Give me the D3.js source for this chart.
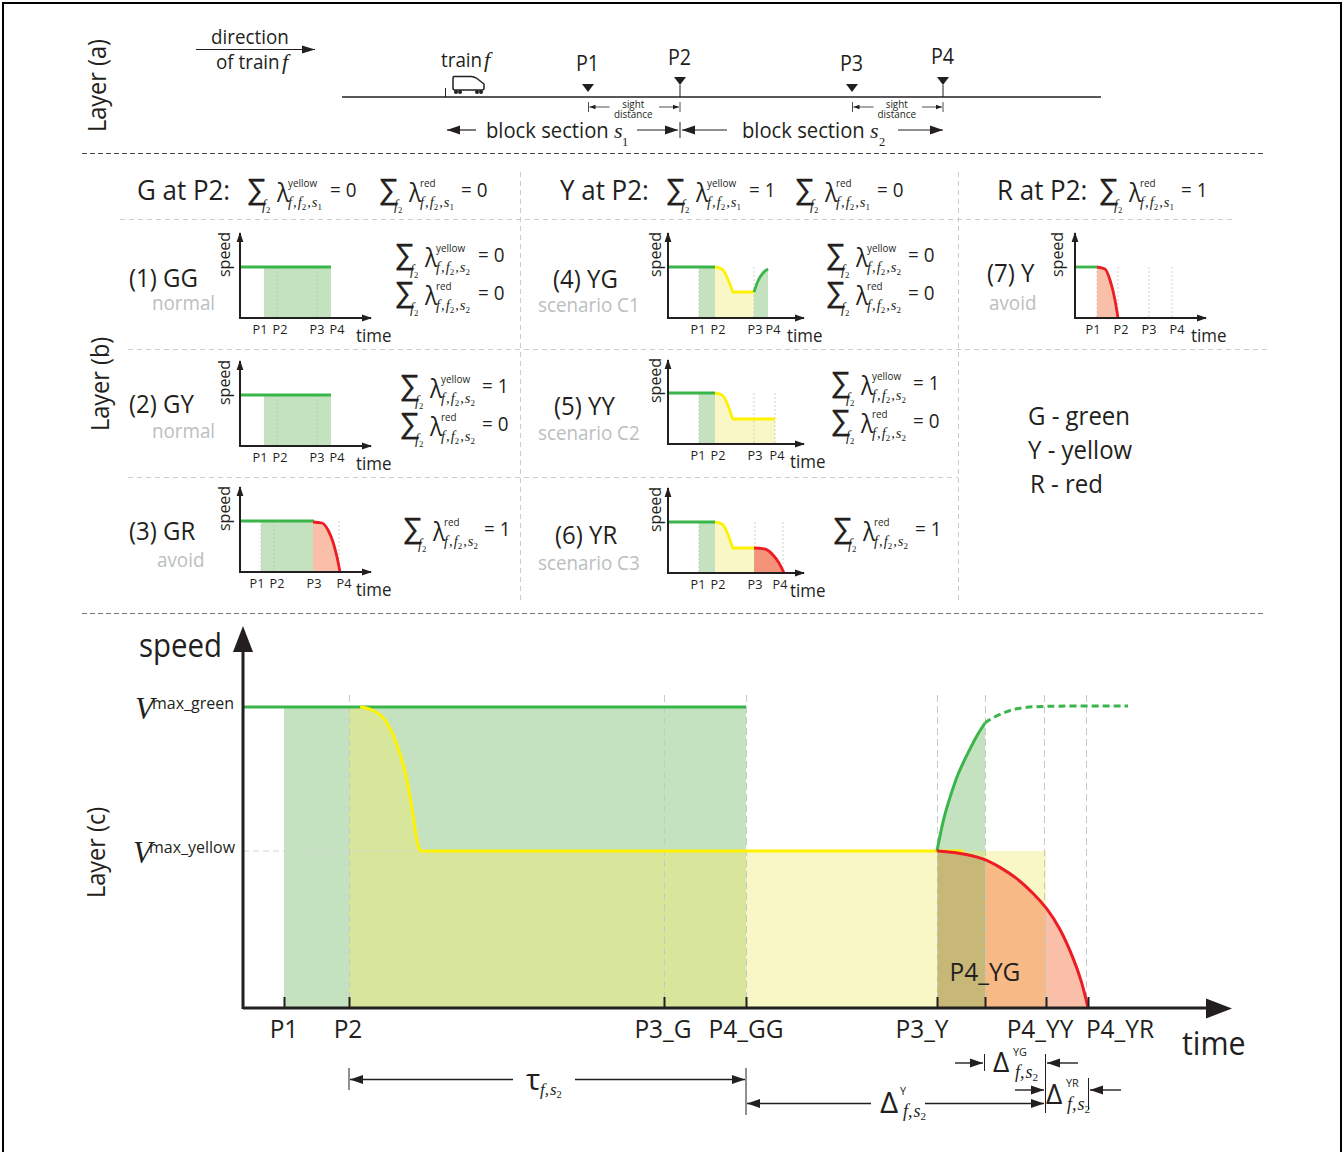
<!DOCTYPE html>
<html>
<head>
<meta charset="utf-8">
<script src="https://d3js.org/d3.v7.min.js"></script>
<style>
  body { margin: 0; background: #fff; }
  svg { display: block; }
  text { fill: #231f20; }
</style>
</head>
<body>
<div id="chart"></div>
<script>
// layer (c) values: time and speed
const mainTimeNames = ["P1", "P2", "P3_G", "P4_GG", "P3_Y", "P4_YG", "P4_YY", "P4_YR"];
const mainTimes = [41, 106, 421, 503, 694, 742, 803, 845];
const mainLabelTimes = [41, 105, 420, 503, 679, 742, 797, 877];
const vGreen = 301, vYellow = 157;
const yellowFall = [[117, 301], [129, 298], [142, 288], [154, 263], [164, 228], [170, 193], [175, 163], [178, 157]];
const yellowFlatEnd = 720;
const redBrake = [[694, 157], [717, 155], [740, 150], [757, 141], [774, 130], [790, 115], [804, 100], [817, 80], [830, 51], [839, 26], [845, 0]];
const greenRise = [[694, 157], [700, 188], [707, 211], [715, 235], [724, 253], [734, 273], [742, 285]];
const greenRiseDash = [[742, 285], [747, 289], [764, 297], [780, 301], [807, 302], [885, 302]];

// layer (b) small panels
const panelNames = ["P1", "P2", "P3", "P4"];
const p1Times = [24, 37, 77, 91];
const p1Labels = [20, 40, 77, 97];
const p2Times = [24, 37, 77, 91];
const p2Labels = [20, 40, 77, 97];
const p3Times = [21, 34, 74, 99];
const p3Labels = [17, 37, 74, 104];
const p3Red = [[73, 50], [82, 49], [88, 42], [93, 30], [97, 15], [100, 0]];
const p4Times = [31, 47, 86, 100];
const p4Labels = [30, 50, 87, 105];
const p4Yellow = [[47, 51], [54, 49], [59, 41], [63, 31], [65, 26], [86, 26]];
const p4Green = [[86, 26], [90, 37], [95, 45], [100, 49]];
const p5Times = [31, 47, 86, 107];
const p5Labels = [30, 50, 87, 109];
const p5Yellow = [[47, 51], [54, 49], [59, 41], [63, 30], [65, 25], [107, 25]];
const p6Times = [31, 47, 87, 116];
const p6Labels = [30, 50, 87, 112];
const p6Yellow = [[47, 51], [54, 49], [59, 41], [63, 30], [65, 25], [87, 25]];
const p6Red = [[86, 25], [97, 24], [105, 18], [111, 10], [116, 0]];
const p7Times = [22, 43, 74, 97];
const p7Labels = [18, 46, 74, 102];
const p7Red = [[22, 51], [30, 49], [35, 38], [40, 18], [43, 0]];

const SANS = "'Open Sans', sans-serif";
const SERIF = "'Liberation Serif', serif";
const C_GREEN = "#39b54a", C_YELLOW = "#fff200", C_RED = "#ed1c24";
const F_GREEN = "#c5e2c0", F_YELLOW = "#f9f7c5", F_RED = "#f9bfa8";
const F_OVERLAP = "#d7e69b", F_ORANGE = "#f7b986", F_OLIVE = "#c8b878";
const INK = "#231f20";

const svg = d3.select("#chart").append("svg")
    .attr("width", 1342)
    .attr("height", 1152);
const defs = svg.append("defs");

// text squeezed a little so that Open Sans takes up the room Myriad did
function txt(x, y, s, size, o) {
  o = o || {};
  const t = svg.append("text")
      .attr("x", x).attr("y", y)
      .attr("font-family", SANS)
      .attr("font-size", size)
      .attr("text-anchor", o.anchor || "start")
      .style("fill", o.fill || INK)
      .text(s);
  if (o.rotate) t.attr("transform", "rotate(-90 " + x + " " + y + ")");
  const len = t.node().getComputedTextLength();
  t.attr("textLength", len * (o.squeeze || 0.94)).attr("lengthAdjust", "spacingAndGlyphs");
  return t;
}

function line(x1, y1, x2, y2, color, w, dash) {
  return svg.append("line")
      .attr("x1", x1).attr("y1", y1).attr("x2", x2).attr("y2", y2)
      .attr("stroke", color || INK)
      .attr("stroke-width", w || 1)
      .attr("stroke-dasharray", dash || null);
}

// arrow head with its tip at x,y, dx/dy telling which way it points
function head(x, y, dx, dy, len, half) {
  const pts = [[x, y],
    [x - dx * len - dy * half, y - dy * len - dx * half],
    [x - dx * len + dy * half, y - dy * len + dx * half]];
  svg.append("polygon").attr("points", pts.join(" ")).attr("fill", INK);
}

function arrow(x1, y1, x2, y2, w, len, half) {
  line(x1, y1, x2, y2, INK, w);
  const d = Math.hypot(x2 - x1, y2 - y1);
  head(x2, y2, (x2 - x1) / d, (y2 - y1) / d, len, half);
}

// italic subscripts such as f,f2,s1
function italic(x, y, parts, size) {
  const t = svg.append("text")
      .attr("x", x).attr("y", y)
      .attr("font-family", SERIF)
      .attr("font-style", "italic")
      .attr("font-size", size);
  parts.forEach(p => {
    const isSub = p[1];
    t.append("tspan")
        .attr("font-size", isSub ? size * 0.62 : size)
        .attr("dy", p[2] || 0)
        .attr("dx", p[3] || 0)
        .attr("font-style", isSub ? "normal" : "italic")
        .text(p[0]);
  });
  return t;
}

function sumTerm(x, y, sup, sIdx, eq, eqX) {
  svg.append("text").attr("x", x - 0.5).attr("y", y + 2)
      .attr("font-family", "'Liberation Sans', sans-serif")
      .attr("font-size", 29)
      .attr("stroke", INK).attr("stroke-width", 0.35)
      .text("∑");
  italic(x + 15, y + 13, [["f", false], ["2", true, 3]], 14);
  txt(x + 30, y + 5, "λ", 26, {squeeze: 0.88});
  txt(x + 41, y - 10, sup, 10.5);
  italic(x + 41, y + 10, [["f", false], [",", false, 0, 1], ["f", false, 0, 1], ["2", true, 3], [",", false, -3, 1], ["s", false, 0, 1], [sIdx, true, 3]], 14.5);
  txt(eqX, y, eq, 20);
}

// ---------- frame
line(2, 3, 1342, 3, "#000", 2);
line(3, 2, 3, 1152, "#000", 2);
line(1341, 2, 1341, 1152, "#000", 2);

// ---------- separators
line(82, 153.5, 1263, 153.5, "#444", 1, "5 3");
line(82, 613.5, 1263, 613.5, "#777", 1, "5 3");
line(120, 219.5, 1235, 219.5, "#ccc", 1, "5 4");
line(128, 349.5, 1270, 349.5, "#ccc", 1, "5 4");
line(128, 477.5, 958, 477.5, "#ccc", 1, "5 4");
line(520.5, 172, 520.5, 600, "#ccc", 1, "5 4");
line(958.5, 172, 958.5, 600, "#ccc", 1, "5 4");

// ---------- layer titles
txt(106, 132, "Layer (a)", 25, {rotate: true});
txt(109, 431, "Layer (b)", 25, {rotate: true});
txt(105, 898, "Layer (c)", 25, {rotate: true});

// ---------- layer (a): the track
txt(250, 44, "direction", 20, {anchor: "middle"});
arrow(196, 49.5, 315, 49.5, 1, 13, 4);
txt(216, 69, "of train", 20);
italic(282, 69, [["f", false]], 22);
txt(441, 67, "train", 20);
italic(484, 67, [["f", false]], 22);

line(342, 97, 1101, 97, INK, 1.6);
line(445.5, 88, 445.5, 97, INK, 1);

// the little train
svg.append("path")
    .attr("d", "M454,76.5 H471 Q474,76.5 477,78.5 L484,84 V88 Q484,90 482,90 H455 Q453,90 453,88 V78 Q453,76.5 454,76.5 Z")
    .attr("fill", "#fff").attr("stroke", INK).attr("stroke-width", 1.5);
[456, 460, 477, 481].forEach(cx => {
  svg.append("circle").attr("cx", cx).attr("cy", 92).attr("r", 2).attr("fill", INK);
});

[[588, 71, 84, "P1", false], [680, 65, 77, "P2", true], [852, 71, 84, "P3", false], [943, 64, 77, "P4", true]].forEach(m => {
  txt(m[0] - 0.5, m[1], m[3], 21, {anchor: "middle"});
  svg.append("polygon")
      .attr("points", [[m[0] - 6, m[2]], [m[0] + 6, m[2]], [m[0], m[2] + 8]].join(" "))
      .attr("fill", INK);
  if (m[4]) line(m[0], m[2] + 8, m[0], 97, INK, 1);
});

[[588.5, 680], [852.5, 943]].forEach(s => {
  const mid = (s[0] + s[1]) / 2;
  line(s[0], 102, s[0], 112, INK, 0.8);
  line(s[1], 102, s[1], 112, INK, 0.8);
  arrow(s[0] + 21, 107, s[0] + 1, 107, 0.8, 6, 2.2);
  arrow(s[1] - 21, 107, s[1] - 1, 107, 0.8, 6, 2.2);
  txt(mid - 1, 108, "sight", 10.5, {anchor: "middle"});
  txt(mid - 1, 118, "distance", 10.5, {anchor: "middle"});
});

arrow(476, 130, 447, 130, 1.2, 13, 4.5);
txt(486, 138, "block section", 21.5);
italic(614, 138, [["s", false]], 22);
italic(622, 146, [["1", true]], 20);
arrow(637, 130, 678, 130, 1.2, 13, 4.5);
line(680, 122, 680, 138, INK, 1);
arrow(727, 130, 682, 130, 1.2, 13, 4.5);
txt(742, 138, "block section", 21.5);
italic(870, 138, [["s", false]], 22);
italic(879, 146, [["2", true]], 20);
arrow(898, 130, 943, 130, 1.2, 13, 4.5);

// ---------- layer (b): headers
txt(137, 200, "G at P2:", 27, {squeeze: 0.96});
sumTerm(247, 197, "yellow", "1", "= 0", 330);
sumTerm(379, 197, "red", "1", "= 0", 461);
txt(560, 200, "Y at P2:", 27, {squeeze: 0.96});
sumTerm(666, 197, "yellow", "1", "= 1", 749);
sumTerm(795, 197, "red", "1", "= 0", 877);
txt(997, 200, "R at P2:", 27, {squeeze: 0.96});
sumTerm(1099, 197, "red", "1", "= 1", 1181);

// one small speed/time panel; x0,y0 is where its axes meet
function panel(o) {
  const x = d3.scaleLinear().domain([0, 100]).range([o.x0, o.x0 + 100]);
  const y = d3.scaleLinear().domain([0, 100]).range([o.y0, o.y0 - 100]);
  const g = svg.append("g");
  const lineGen = d3.line().x(d => x(d[0])).y(d => y(d[1])).curve(d3.curveMonotoneX);
  const areaGen = d3.area().x(d => x(d[0])).y0(y(0)).y1(d => y(d[1])).curve(d3.curveMonotoneX);
  const t = o.times;
  const addArea = (pts, fill) => g.append("path").attr("d", areaGen(pts)).attr("fill", fill);
  const addLine = (pts, color) => g.append("path").attr("d", lineGen(pts))
      .attr("fill", "none").attr("stroke", color).attr("stroke-width", 2.8);

  // coloured fills
  if (o.yellow) {
    addArea([[t[0], 51], [t[1], 51]], F_GREEN);
    addArea(o.yellow, F_YELLOW);
  } else if (o.greenFill !== false) {
    addArea([[t[0], 51], [o.greenEnd, 51]], F_GREEN);
  }
  if (o.red) addArea(o.red, o.yellow ? "#f4937a" : F_RED);
  if (o.green) addArea(o.green, F_GREEN);

  // light guide lines
  o.guides.forEach(g2 => {
    g.append("line").attr("x1", x(g2)).attr("x2", x(g2))
        .attr("y1", y(51)).attr("y2", y(0))
        .attr("stroke", "#bbb").attr("stroke-width", 0.7).attr("stroke-dasharray", "2 2");
  });

  // speed profile
  addLine([[0, 51], [o.greenEnd, 51]], C_GREEN);
  if (o.yellow) addLine(o.yellow, C_YELLOW);
  if (o.green) addLine(o.green, C_GREEN);
  if (o.red) addLine(o.red, C_RED);

  // axes
  const yAxis = d3.axisLeft(y).tickValues([]).tickSize(0);
  const xAxis = d3.axisBottom(x).tickValues([]).tickSize(0);
  const gy = g.append("g").attr("transform", "translate(" + o.x0 + ",0)").call(yAxis);
  gy.select(".domain").attr("d", "M0," + (o.y0 + 1) + "V" + (o.y0 - o.top)).attr("stroke", INK).attr("stroke-width", 2);
  const gx = g.append("g").attr("transform", "translate(0," + o.y0 + ")").call(xAxis);
  gx.select(".domain").attr("d", "M" + o.x0 + ",0H" + (o.x0 + o.right)).attr("stroke", INK).attr("stroke-width", 2);
  head(o.x0, o.y0 - o.top - 1, 0, -1, 10, 3.4);
  head(o.x0 + o.right + 1, o.y0, 1, 0, 10, 3.4);

  panelNames.forEach((n, i) => {
    txt(x(o.labels[i]), o.y0 + 16, n, 13.5, {anchor: "middle"});
  });
  txt(o.speedX, o.y0 - 41, "speed", 17, {rotate: true});
  txt(o.timeX, o.y0 + o.timeDy, "time", 18);
}

panel({x0: 240, y0: 318, top: 85, right: 131, times: p1Times, labels: p1Labels, greenEnd: 91, guides: [37, 77], speedX: 230, timeX: 356, timeDy: 24});
panel({x0: 240, y0: 446, top: 85, right: 131, times: p2Times, labels: p2Labels, greenEnd: 91, guides: [37, 77], speedX: 230, timeX: 356, timeDy: 24});
panel({x0: 240, y0: 572, top: 85, right: 131, times: p3Times, labels: p3Labels, greenEnd: 74, red: p3Red, guides: [21, 34, 99], speedX: 230, timeX: 356, timeDy: 24});
panel({x0: 668, y0: 318, top: 85, right: 136, times: p4Times, labels: p4Labels, greenEnd: 47, yellow: p4Yellow, green: p4Green, guides: [31, 86], speedX: 661, timeX: 787, timeDy: 24});
panel({x0: 668, y0: 444, top: 84, right: 136, times: p5Times, labels: p5Labels, greenEnd: 47, yellow: p5Yellow, guides: [31, 86, 107], speedX: 661, timeX: 790, timeDy: 24});
panel({x0: 668, y0: 573, top: 85, right: 136, times: p6Times, labels: p6Labels, greenEnd: 47, yellow: p6Yellow, red: p6Red, guides: [31, 87, 115], speedX: 661, timeX: 790, timeDy: 24});
panel({x0: 1075, y0: 318, top: 85, right: 131, times: p7Times, labels: p7Labels, greenEnd: 22, greenFill: false, red: p7Red, guides: [22, 43, 74, 97], speedX: 1063, timeX: 1191, timeDy: 24});

// panel captions
const caption = (x, y, a, cx, cy, b) => {
  txt(x, y, a, 25.5);
  txt(cx, cy, b, 20, {fill: "#bcbec0"});
};
caption(129, 287, "(1) GG", 152, 310, "normal");
caption(129, 413, "(2) GY", 152, 438, "normal");
caption(129, 540, "(3) GR", 157, 567, "avoid");
caption(553, 288, "(4) YG", 538, 312, "scenario C1");
caption(554, 415, "(5) YY", 538, 440, "scenario C2");
caption(555, 544, "(6) YR", 538, 570, "scenario C3");
caption(987, 282, "(7) Y", 989, 310, "avoid");

// panel formulas
sumTerm(395, 262, "yellow", "2", "= 0", 478);
sumTerm(395, 300, "red", "2", "= 0", 478);
sumTerm(400, 393, "yellow", "2", "= 1", 482);
sumTerm(400, 431, "red", "2", "= 0", 482);
sumTerm(403, 536, "red", "2", "= 1", 484);
sumTerm(826, 262, "yellow", "2", "= 0", 908);
sumTerm(826, 300, "red", "2", "= 0", 908);
sumTerm(831, 390, "yellow", "2", "= 1", 913);
sumTerm(831, 428, "red", "2", "= 0", 913);
sumTerm(833, 536, "red", "2", "= 1", 915);

txt(1028, 425, "G - green", 25.5);
txt(1028, 459, "Y - yellow", 25.5);
txt(1030, 493, "R - red", 25.5);

// ---------- layer (c): the big chart
const sx = d3.scaleLinear().domain([0, 985]).range([243, 1228]);
const sy = d3.scaleLinear().domain([0, 380]).range([1008, 628]);
const lineGenC = curve => d3.line().x(d => sx(d[0])).y(d => sy(d[1])).curve(curve);
const areaGenC = curve => d3.area().x(d => sx(d[0])).y0(sy(0)).y1(d => sy(d[1])).curve(curve);
const lineC = lineGenC(d3.curveMonotoneX), areaC = areaGenC(d3.curveMonotoneX);
const lineSmooth = lineGenC(d3.curveBasis), areaSmooth = areaGenC(d3.curveBasis);
const fills = svg.append("g");

// fills are flat colours; where two phases overlap the area is painted again, clipped to the overlap
function clipBetween(id, t0, t1) {
  defs.append("clipPath").attr("id", id).append("rect")
      .attr("x", sx(t0)).attr("width", sx(t1) - sx(t0))
      .attr("y", sy(380)).attr("height", sy(0) - sy(380));
  return "url(#" + id + ")";
}
const addFill = (pts, fill, clip, gen) => fills.append("path")
    .attr("d", (gen || areaC)(pts)).attr("fill", fill).attr("clip-path", clip || null);

const yellowProfile = [[mainTimes[1], vGreen]].concat(yellowFall, [[mainTimes[6], vYellow]]);
addFill([[mainTimes[0], vGreen], [mainTimes[3], vGreen]], F_GREEN);
addFill(yellowProfile, F_YELLOW);
addFill(yellowProfile, F_OVERLAP, clipBetween("p2p4gg", mainTimes[1], mainTimes[3]));
addFill(greenRise, F_GREEN, null, areaSmooth);
addFill([[mainTimes[4], vYellow], [mainTimes[5], vYellow]], F_OVERLAP);
addFill(redBrake, F_RED, null, areaSmooth);
addFill(redBrake, F_ORANGE, clipBetween("p3yyy", mainTimes[4], mainTimes[6]), areaSmooth);
addFill(redBrake, F_OLIVE, clipBetween("p3yyg", mainTimes[4], mainTimes[5]), areaSmooth);

const strokeC = (pts, color, dash, gen) => svg.append("path")
    .attr("d", (gen || lineC)(pts)).attr("fill", "none")
    .attr("stroke", color).attr("stroke-width", 3)
    .attr("stroke-dasharray", dash || null);

// guide lines
[1, 2, 3, 4, 5, 6, 7].forEach(i => {
  const off = i === 6 || i === 7 ? -2 : 0;
  line(sx(mainTimes[i]) + off + 0.5, 695, sx(mainTimes[i]) + off + 0.5, 1008, "#c8c8c8", 1, "7 4");
});
line(sx(0), sy(vYellow), sx(180), sy(vYellow), "#d4d4d4", 1, "6 4");

strokeC([[0, vGreen], [mainTimes[3], vGreen]], C_GREEN);
strokeC([[117, vGreen]].concat(yellowFall, [[yellowFlatEnd, vYellow]]), C_YELLOW);
strokeC(greenRise, C_GREEN, null, lineSmooth);
strokeC(greenRiseDash, C_GREEN, "7 4", lineSmooth);
strokeC(redBrake, C_RED, null, lineSmooth);

// axes through d3.axis, with the tick values from the data
const axisX = d3.axisBottom(sx).tickValues(mainTimes).tickSize(-11).tickFormat("").tickSizeOuter(0);
const gx = svg.append("g").attr("transform", "translate(0," + sy(0) + ")").call(axisX);
gx.select(".domain").attr("d", "M243,0H1222").attr("stroke", INK).attr("stroke-width", 3);
gx.selectAll(".tick line").attr("stroke", INK).attr("stroke-width", 2);
line(243, 1009, 243, 640, INK, 3);
head(243, 626, 0, -1, 26, 10);
head(1232, 1008.5, 1, 0, 26, 10);

mainTimeNames.forEach((n, i) => {
  if (n !== "P4_YG") txt(sx(mainLabelTimes[i]), 1038, n, 26, {anchor: "middle"});
});
txt(sx(mainLabelTimes[5]), 981, "P4_YG", 26, {anchor: "middle"});

txt(139, 657, "speed", 32, {squeeze: 0.92});
txt(1182, 1055, "time", 33, {squeeze: 0.92});

italic(135, 719, [["V", false]], 31);
txt(152, 709, "max_green", 17);
italic(133, 863, [["V", false]], 31);
txt(149, 853, "max_yellow", 17);

// time differences below the axis
function delta(x, y, sym, sup, supX, supY, subX, subY, size) {
  txt(x, y, sym, size, {squeeze: 1.05});
  if (sup) txt(supX, supY, sup, 11.5);
  italic(subX, subY, [["f", false], [",", false], ["s", false, 0, 1], ["2", true, 3]], 18);
}

line(349, 1068, 349, 1090, INK, 1);
arrow(513, 1079.5, 350, 1079.5, 1.4, 13, 4.5);
svg.append("text").attr("x", 526).attr("y", 1090).attr("font-family", SANS).attr("font-size", 30).text("τ");
italic(540, 1095, [["f", false], [",", false], ["s", false, 0, 1], ["2", true, 3]], 17);
arrow(575, 1079.5, 745, 1079.5, 1.4, 13, 4.5);

line(746, 1068, 746, 1115, INK, 1);
arrow(871, 1103.5, 747, 1103.5, 1.4, 13, 4.5);
delta(880, 1113, "Δ", "Y", 900, 1095, 903, 1117, 30);
arrow(925, 1103.5, 1044, 1103.5, 1.4, 13, 4.5);

line(1045.5, 1054, 1045.5, 1113, INK, 1);
arrow(955, 1063, 983, 1063, 1.4, 13, 4.5);
line(984.5, 1054, 984.5, 1071, INK, 1);
delta(993, 1072, "Δ", "YG", 1013, 1056, 1015, 1078, 27);
arrow(1078, 1063, 1047, 1063, 1.4, 13, 4.5);

arrow(1015, 1090, 1044, 1090, 1.4, 13, 4.5);
delta(1046, 1104, "Δ", "YR", 1066, 1087, 1067, 1110, 27);
line(1088.5, 1078, 1088.5, 1110, INK, 1);
arrow(1121, 1090, 1090, 1090, 1.4, 13, 4.5);
</script>
</body>
</html>
